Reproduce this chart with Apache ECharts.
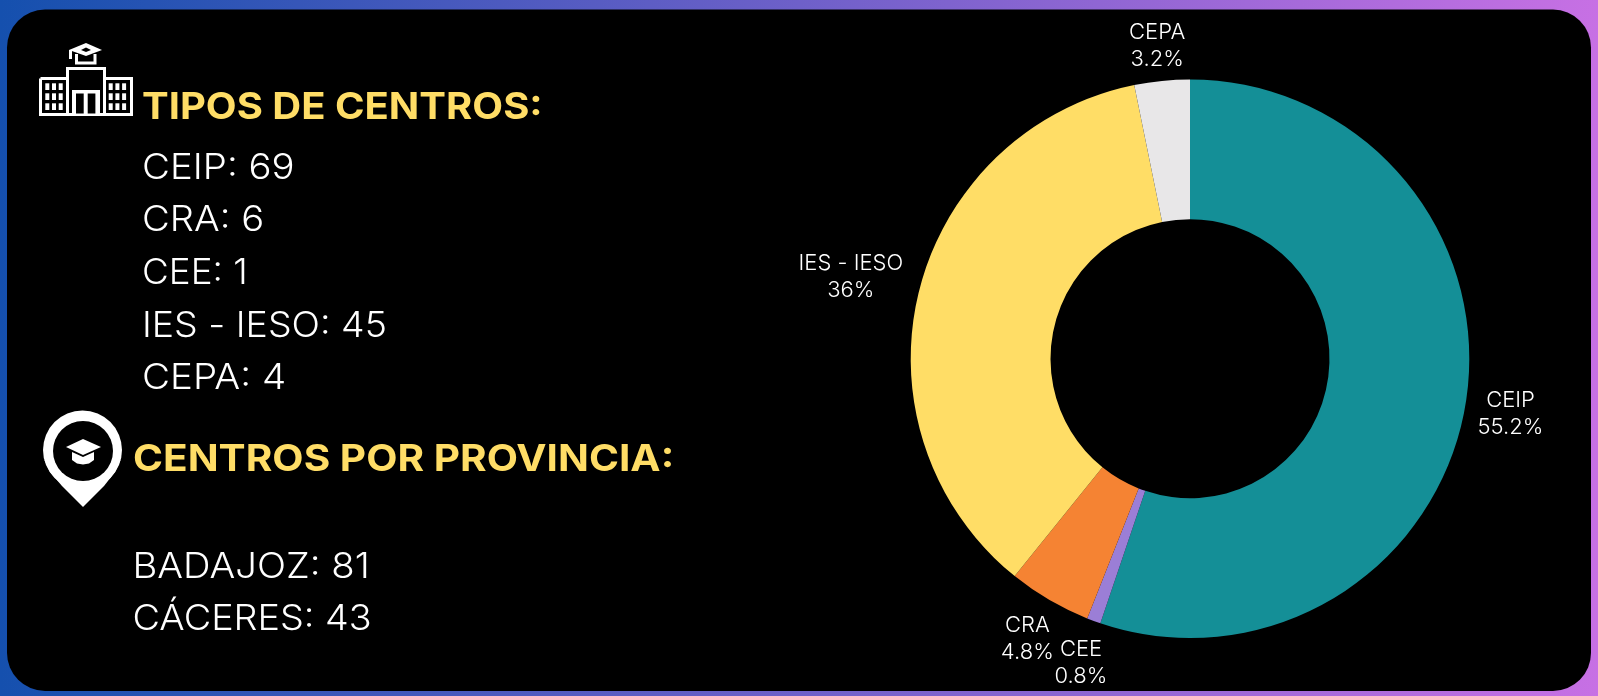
<!DOCTYPE html>
<html><head><meta charset="utf-8">
<style>html,body{margin:0;padding:0;background:#000}#c{width:1598px;height:696px}</style>
<script src="https://cdn.jsdelivr.net/npm/echarts@6/dist/echarts.min.js"></script>
</head><body><div id="c"></div>
<script>
var categories=['CEIP','CEE','CRA','IES - IESO','CEPA'];
var values=[69,1,6,45,4];
var colors=['#148F97','#9B7ED6','#F58333','#FFDD66','#E8E7E8'];
var labelShift=[[32,8],[-5,34],[-13,32],[-55,-14],[1,-27]];
var typeRows=['CEIP: 69','CRA: 6','CEE: 1','IES - IESO: 45','CEPA: 4'];
var provinceRows=['BADAJOZ: 81','CÁCERES: 43'];
var FONT='Inter, "Open Sans", sans-serif';
var YEL='#FFDD66';
function txt(x,y,t,size,col,w,sx){return {type:'text',x:x,y:y,scaleX:sx,z:10,style:{text:t,x:0,y:0,font:(w||400)+' '+size+'px '+FONT,fill:col,verticalAlign:'middle',align:'left'}};}
function poly(pts,col,z){return {type:'polygon',z:z||10,shape:{points:pts},style:{fill:col||'#fff'}};}
function pl(pts,w){return {type:'polyline',z:11,shape:{points:pts},style:{fill:null,stroke:'#fff',lineWidth:w}};}
function box(x,y,w,h,col,z){return {type:'rect',z:z||11,shape:{x:x,y:y,width:w,height:h},style:{fill:col||'#fff'}};}
function grid(x0,y0){var a=[];for(var r=0;r<3;r++)for(var c=0;c<3;c++){a.push(box(x0+c*6.7,y0+r*10,4,6.7));}return a;}
var gr=[
 {type:'rect',z:0,shape:{x:0,y:0,width:1598,height:696},style:{fill:new echarts.graphic.LinearGradient(0,0,1,0,[{offset:0,color:'#1550AE'},{offset:1,color:'#C770E4'}])}},
 {type:'rect',z:1,shape:{x:7,y:9.5,width:1584,height:681.5,r:38},style:{fill:'#000'}},
 txt(142,108,'TIPOS DE CENTROS:',37,YEL,700,1.081),
 txt(133,459.5,'CENTROS POR PROVINCIA:',37,YEL,700,1.097),
 /* building icon */
 pl([[40.5,78.5],[67.5,78.5],[67.5,68.5],[104.5,68.5],[104.5,78.5],[131.5,78.5],[131.5,114.5],[40.5,114.5],[40.5,78.5]],3),
 pl([[67.5,78],[67.5,114]],3),pl([[104.5,78],[104.5,114]],3),
 box(72,90,28,24),box(76,93.5,7.7,20,'#000',12),box(87.7,93.5,7.7,20,'#000',12),
 poly([[86,43],[102,50],[86,56],[69,50]]),
 poly([[86,47.5],[91,50],[86,52],[81,50]],'#000',12),
 pl([[76.5,54],[76.5,63],[95,63],[95,54]],3),
 pl([[70.5,50],[70.5,59]],3),
 /* pin icon */
 {type:'circle',z:10,shape:{cx:82.5,cy:450,r:39.5},style:{fill:'#fff'}},
 poly([[44.5,460],[50,472],[62,486],[83,507],[104,486],[115,472],[120.5,460]]),
 {type:'circle',z:11,shape:{cx:83,cy:451,r:30},style:{fill:'#000'}},
 poly([[83,439],[101,447],[83,455],[66,447]],'#fff',12),
 poly([[72,452],[83,457],[94,452],[94,460],[89,463.5],[83,464.5],[77,463.5],[72,460]],'#fff',12)
].concat(grid(45.3,83.3),grid(108.7,83.3));
typeRows.forEach(function(t,i){gr.push(txt(142,168+i*52.7,t,35,'#fff',300,[1.096,1.09,1.05,1.07,1.1][i]));});
provinceRows.forEach(function(t,i){gr.push(txt(132.5,567.5+i*52.2,t,35,'#fff',300,[1.093,1.078][i]));});
var chart=echarts.init(document.getElementById('c'),null,{renderer:'canvas'});
chart.setOption({
 animation:false,
 graphic:{elements:gr},
 series:[{type:'pie',center:[1190,358.7],radius:[139.5,279.3],startAngle:90,clockwise:true,z:5,
  data:categories.map(function(c,i){return {name:c,value:values[i],itemStyle:{color:colors[i]}};}),
  label:{show:true,position:'outside',formatter:'{b}\n{d}%',color:'#fff',fontFamily:FONT,fontWeight:300,fontSize:22,lineHeight:27,alignTo:'none'},
  labelLine:{show:false,length:8,length2:0},avoidLabelOverlap:false,
  labelLayout:function(p){var s=labelShift[p.dataIndex];return {align:'center',dx:s[0],dy:s[1]};}}]
});
</script></body></html>
